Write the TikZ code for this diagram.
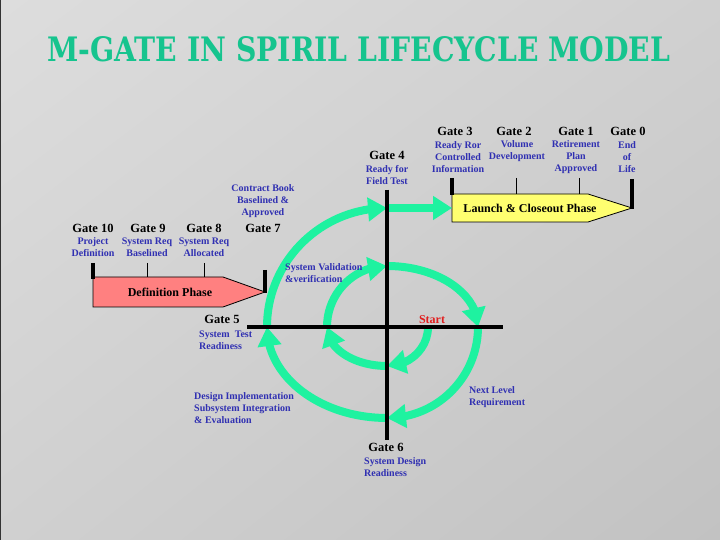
\documentclass[tikz,border=0pt]{standalone}
\usepackage{fontspec}
\setmainfont{Liberation Serif}
\newfontfamily\titlefont{DejaVu Serif}
\usetikzlibrary{arrows.meta,bending,shadings}
\definecolor{spiral}{RGB}{30,242,160}
\definecolor{titlegreen}{RGB}{22,196,142}
\definecolor{lblue}{RGB}{48,48,178}
\definecolor{startred}{RGB}{225,30,30}
\definecolor{pinkph}{RGB}{255,128,128}
\definecolor{yellowph}{RGB}{255,255,112}
\definecolor{bgA}{RGB}{221,221,221}
\definecolor{bgB}{RGB}{208,208,208}
\definecolor{bgC}{RGB}{194,194,194}
\tikzset{
  spiralarc/.style={draw=spiral, line width=8pt, line cap=butt, -{Triangle[length=19pt,width=23pt]}},
  axisline/.style={draw=black, line width=3.5pt},
  thicktick/.style={draw=black, line width=4pt},
  thintick/.style={draw=black, line width=1pt},
  phasebox/.style={draw=black, line width=0.8pt},
  gatelbl/.style={font=\bfseries\fontsize{12.5}{14}\selectfont, text=black, inner sep=0pt},
  bluelbl/.style={font=\bfseries\fontsize{10}{12}\selectfont, text=lblue, inner sep=0pt, align=center},
  bluelblL/.style={font=\bfseries\fontsize{10}{12}\selectfont, text=lblue, inner sep=0pt, align=left, anchor=west},
  phaselbl/.style={font=\bfseries\fontsize{12}{14}\selectfont, text=black, inner sep=0pt},
}
\begin{document}
\begin{tikzpicture}[x=1pt,y=1pt]
\useasboundingbox (0,0) rectangle (720,540);
\shade[upper left=bgA, upper right=bgB, lower left=bgB, lower right=bgC] (0,0) rectangle (720,540);
\draw[gray!40!black, line width=1pt] (0,0) -- (0,540) -- (720,540);

% title
\node[text=titlegreen, anchor=south west, inner sep=0pt] (title) at (47,478)
  {\resizebox{623pt}{25pt}{\titlefont\bfseries M-GATE IN SPIRIL LIFECYCLE MODEL}};

% phases
\path[phasebox, fill=pinkph] (93,263) -- (223,263) -- (265,248) -- (223,233) -- (93,233) -- cycle;
\node[phaselbl] (defph) at (170,248) {Definition Phase};
\path[phasebox, fill=yellowph] (452,346) -- (588,346) -- (632,332) -- (588,318) -- (452,318) -- cycle;
\node[phaselbl] (launchph) at (530,332) {Launch \& Closeout Phase};

% coordinates of the spiral
\coordinate (C) at (387,213);
\coordinate (s0) at (428,213);
\coordinate (s1) at (387,174);
\coordinate (s2) at (327,213);
\coordinate (s3) at (387,274);
\coordinate (s4) at (478,213);
\coordinate (s5) at (387,122);
\coordinate (s6) at (267,213);
\coordinate (s7) at (387,332);
\coordinate (s8) at (452,332);

\draw[spiralarc] (s0) arc[start angle=0, end angle=-90, x radius=41, y radius=39];
\draw[spiralarc] (s1) arc[start angle=-90, end angle=-180, x radius=60, y radius=39];
\draw[spiralarc] (s2) arc[start angle=180, end angle=90, x radius=60, y radius=61];
\draw[spiralarc] (s3) arc[start angle=90, end angle=0, x radius=91, y radius=61];
\draw[spiralarc] (s4) arc[start angle=0, end angle=-90, x radius=91, y radius=91];
\draw[spiralarc] (s5) arc[start angle=-90, end angle=-180, x radius=120, y radius=91];
\draw[spiralarc] (s6) arc[start angle=180, end angle=90, x radius=120, y radius=119];
\draw[spiralarc] (s7) -- (s8);

% axes
\coordinate (hL) at (247,213);
\coordinate (hR) at (503,213);
\coordinate (vT) at (387,350);
\coordinate (vB) at (387,100);
\draw[axisline] (hL) -- (hR);
\draw[axisline] (vT) -- (vB);
\draw[thicktick] (387,350) -- (387,318);
\draw[thicktick] (387,132) -- (387,100);

% definition phase ticks
\draw[thicktick] (93,277) -- (93,261);
\draw[thintick] (147,277) -- (147,263);
\draw[thintick] (204,277) -- (204,263);
\draw[thicktick] (265,270) -- (265,247);
% launch phase ticks
\draw[thicktick] (452,362) -- (452,345);
\draw[thintick] (516,362) -- (516,346);
\draw[thintick] (579,362) -- (579,346);
\draw[thicktick] (632,361) -- (632,331);

% gate labels
\node[gatelbl] (g10) at (93,312) {Gate 10};
\node[gatelbl] (g9) at (148,312) {Gate 9};
\node[gatelbl] (g8) at (204,312) {Gate 8};
\node[gatelbl] (g7) at (263,312) {Gate 7};
\node[gatelbl] (g4) at (387,385) {Gate 4};
\node[gatelbl] (g3) at (455,409) {Gate 3};
\node[gatelbl] (g2) at (514,409) {Gate 2};
\node[gatelbl] (g1) at (576,409) {Gate 1};
\node[gatelbl] (g0) at (628,409) {Gate 0};
\node[gatelbl] (g5) at (222,221) {Gate 5};
\node[gatelbl] (g6) at (386,93) {Gate 6};

% blue labels
\node[bluelbl] (d10) at (93,293) {Project\\Definition};
\node[bluelbl] (d9) at (147,293) {System Req\\Baselined};
\node[bluelbl] (d8) at (204,293) {System Req\\Allocated};
\node[bluelbl] (d7) at (263,339) {Contract Book\\Baselined \&\\Approved};
\node[bluelbl] (d4) at (387,365) {Ready for\\Field Test};
\node[bluelbl] (d3) at (458,383) {Ready Ror\\Controlled\\Information};
\node[bluelbl] (d2) at (517,389) {Volume\\Development};
\node[bluelbl] (d1) at (576,383) {Retirement\\Plan\\Approved};
\node[bluelbl] (d0) at (627,383) {End\\of\\Life};
\node[bluelblL] (dval) at (285,267) {System Validation\\\&verification};
\node[bluelblL] (d5) at (199,200) {System\ \ Test\\Readiness};
\node[bluelblL] (dimp) at (194,132) {Design Implementation\\Subsystem Integration\\\& Evaluation};
\node[bluelblL] (dnext) at (469,143) {Next Level\\Requirement};
\node[bluelblL] (d6) at (364,73) {System Design\\Readiness};
\node[font=\bfseries\fontsize{12}{14}\selectfont, text=startred, inner sep=0pt] (start) at (432,220) {Start};
\end{tikzpicture}
\end{document}
